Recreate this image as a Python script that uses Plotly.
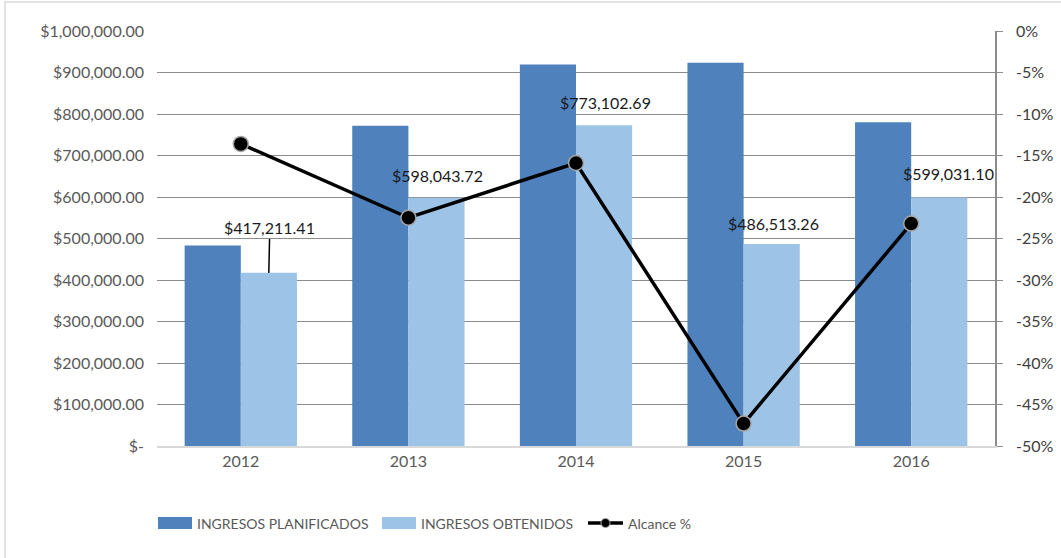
import plotly.graph_objects as go

# Data
years = ['2012', '2013', '2014', '2015', '2016']
ingresos_planificados = [483000, 771500, 919500, 923500, 780000]
ingresos_obtenidos = [417211.41, 598043.72, 773102.69, 486513.26, 599031.10]
alcance = [-0.136, -0.225, -0.159, -0.473, -0.232]

left_tickvals = [0, 100000, 200000, 300000, 400000, 500000, 600000, 700000, 800000, 900000, 1000000]
left_ticktext = ['$-', '$100,000.00', '$200,000.00', '$300,000.00', '$400,000.00', '$500,000.00',
                 '$600,000.00', '$700,000.00', '$800,000.00', '$900,000.00', '$1,000,000.00']
right_tickvals = [0, -0.05, -0.10, -0.15, -0.20, -0.25, -0.30, -0.35, -0.40, -0.45, -0.50]
right_ticktext = ['0%', '-5%', '-10%', '-15%', '-20%', '-25%', '-30%', '-35%', '-40%', '-45%', '-50%']

legend_names = ['INGRESOS PLANIFICADOS', 'INGRESOS OBTENIDOS', 'Alcance %']

# label offsets (px) for the obtained-value data labels, as moved in the original
label_xshift = [28, 29, 29, 30, 37]
label_yshift = [0, 22, 23, 21, 24]

FONT = 'Lato'
DARK = '#4F81BD'
LIGHT = '#9DC3E6'

# plot area in pixels: x 157..995, y 31..446
L, R, T, B = 157, 66, 31, 112
PW, PH = 1061 - L - R, 558 - T - B


def px(p):
    return (p - L) / PW


def py(p):
    return (558 - B - p) / PH


fig = go.Figure()

fig.add_trace(go.Bar(
    x=years, y=ingresos_planificados,
    name=legend_names[0],
    marker=dict(color=DARK, line=dict(width=0)),
))
fig.add_trace(go.Bar(
    x=years, y=ingresos_obtenidos,
    name=legend_names[1],
    marker=dict(color=LIGHT, line=dict(width=0)),
))
fig.add_trace(go.Scatter(
    x=years, y=alcance,
    name=legend_names[2],
    yaxis='y2',
    mode='lines+markers',
    line=dict(color='black', width=3.5),
    marker=dict(size=15, color='black', line=dict(color='#A6A6A6', width=1.5)),
))

# Data labels for the obtained bars (x given as category index)
for i, val in enumerate(ingresos_obtenidos):
    text = '${:,.2f}'.format(val)
    if i == 0:
        # label moved up with a leader line
        fig.add_annotation(
            x=i, y=val, xref='x', yref='y',
            text=text, showarrow=True, arrowhead=0, arrowwidth=1.5,
            arrowcolor='black', ax=1, ay=-45, standoff=0,
            xshift=label_xshift[i],
            font=dict(family=FONT, size=16, color='#1a1a1a'),
        )
    else:
        fig.add_annotation(
            x=i, y=val, xref='x', yref='y',
            text=text, showarrow=False,
            xshift=label_xshift[i], yshift=label_yshift[i],
            font=dict(family=FONT, size=16, color='#1a1a1a'),
        )

# Outer chart border (left and top edges visible)
fig.add_shape(type='rect', xref='paper', yref='paper',
              x0=px(5), x1=px(1100), y0=py(600), y1=py(2),
              line=dict(color='#D9D9D9', width=1.5), fillcolor='rgba(0,0,0,0)', layer='below')

# Legend drawn by hand (wide swatches as in the original)
ly = py(523)
legend_font = dict(family=FONT, size=14, color='#595959')
fig.add_shape(type='rect', xref='paper', yref='paper', x0=px(158), x1=px(192),
              y0=py(529), y1=py(517), fillcolor=DARK, line=dict(width=0))
fig.add_annotation(x=px(195), y=ly, xref='paper', yref='paper', xanchor='left', yanchor='middle',
                   text=legend_names[0], showarrow=False, font=legend_font)
fig.add_shape(type='rect', xref='paper', yref='paper', x0=px(382), x1=px(416),
              y0=py(529), y1=py(517), fillcolor=LIGHT, line=dict(width=0))
fig.add_annotation(x=px(419), y=ly, xref='paper', yref='paper', xanchor='left', yanchor='middle',
                   text=legend_names[1], showarrow=False, font=legend_font)
fig.add_shape(type='line', xref='paper', yref='paper', x0=px(588), x1=px(623),
              y0=ly, y1=ly, line=dict(color='black', width=3.5))
fig.add_shape(type='circle', xref='paper', yref='paper',
              xsizemode='pixel', ysizemode='pixel', xanchor=px(605.5), yanchor=ly,
              x0=-4.5, x1=4.5, y0=-4.5, y1=4.5,
              fillcolor='black', line=dict(color='#A6A6A6', width=1))
fig.add_annotation(x=px(626), y=ly, xref='paper', yref='paper', xanchor='left', yanchor='middle',
                   text=legend_names[2], showarrow=False, font=legend_font)

fig.update_layout(
    width=1061, height=558,
    paper_bgcolor='white',
    plot_bgcolor='white',
    barmode='group',
    bargap=0.33,
    bargroupgap=0,
    margin=dict(l=L, r=R, t=T, b=B, autoexpand=False),
    font=dict(family=FONT, color='#595959', size=16),
    showlegend=False,
    xaxis=dict(
        type='category',
        range=[-0.5, 4.5],
        showgrid=False,
        showline=True, linecolor='#D9D9D9', linewidth=1.5,
        ticks='', automargin=False,
        tickfont=dict(family=FONT, size=16, color='#595959'),
    ),
    yaxis=dict(
        range=[0, 1000000],
        tickvals=left_tickvals, ticktext=left_ticktext,
        showgrid=True, gridcolor='#8C8C8C', gridwidth=1.2,
        zeroline=False, showline=False,
        ticks='', ticklabelstandoff=12, automargin=False,
        tickfont=dict(family=FONT, size=16, color='#595959'),
    ),
    yaxis2=dict(
        overlaying='y', side='right',
        range=[-0.5, 0],
        tickvals=right_tickvals, ticktext=right_ticktext,
        showgrid=False, zeroline=False,
        showline=True, linecolor='#8C8C8C', linewidth=1.5,
        ticks='outside', ticklen=6, tickcolor='#8C8C8C', tickwidth=1.2,
        ticklabelstandoff=10, automargin=False,
        tickfont=dict(family=FONT, size=16, color='#404040'),
    ),
)

# remove the default page margin so the chart sits at the window's top-left corner
fig.write_html('out.html', config={'displayModeBar': False},
               post_script="document.body.style.margin='0';")
